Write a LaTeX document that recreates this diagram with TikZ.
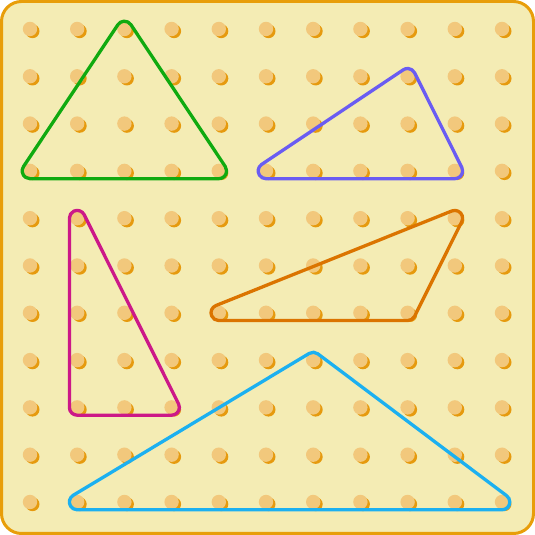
\documentclass[tikz,border=0pt]{standalone}
\usetikzlibrary{calc}
\definecolor{bgc}{HTML}{F4ECB4}
\definecolor{framec}{HTML}{E89E0A}
\definecolor{pegl}{HTML}{F2C87C}
\definecolor{pegd}{HTML}{E69A0E}
\definecolor{bgreen}{HTML}{10AA10}
\definecolor{bpurple}{HTML}{6A5CF2}
\definecolor{borange}{HTML}{DB7400}
\definecolor{bmagenta}{HTML}{CC1888}
\definecolor{bcyan}{HTML}{1CB0F0}
\tikzset{band/.style={line width=3.3pt,line join=round}}
\newcommand\bandtri[4]{%
  \draw[band,#4] let \p1=(#1), \p2=(#2), \p3=(#3),
    \n1={atan2(\y2-\y1,\x2-\x1)-90},
    \n2={atan2(\y3-\y2,\x3-\x2)-90},
    \n3={atan2(\y1-\y3,\x1-\x3)-90} in
    ($(\p1)+(\n1:7.8pt)$) -- ($(\p2)+(\n1:7.8pt)$)
    arc[start angle=\n1, delta angle={mod(\n2-\n1+720,360)}, radius=7.8pt]
    -- ($(\p3)+(\n2:7.8pt)$)
    arc[start angle=\n2, delta angle={mod(\n3-\n2+720,360)}, radius=7.8pt]
    -- ($(\p1)+(\n3:7.8pt)$)
    arc[start angle=\n3, delta angle={mod(\n1-\n3+720,360)}, radius=7.8pt]
    -- cycle;}
\begin{document}
\begin{tikzpicture}[x=1pt,y=1pt]
\useasboundingbox (0,0) rectangle (535,535);
\draw[fill=bgc,draw=framec,line width=3pt,rounded corners=20pt] (1.5,1.5) rectangle (533.5,533.5);
\foreach \i in {0,...,10}{
  \foreach \j in {0,...,10}{
    \coordinate (p-\i-\j) at ({30+47.2*\i},{506-47.3*\j});
    \fill[pegd] ($(p-\i-\j)+(2.5,-2.2)$) circle (7);
    \fill[pegl] (p-\i-\j) circle (7.2);
  }
}
\bandtri{p-2-0}{p-0-3}{p-4-3}{bgreen}
\bandtri{p-8-1}{p-5-3}{p-9-3}{bpurple}
\bandtri{p-9-4}{p-4-6}{p-8-6}{borange}
\bandtri{p-1-4}{p-1-8}{p-3-8}{bmagenta}
\bandtri{p-6-7}{p-1-10}{p-10-10}{bcyan}
\end{tikzpicture}
\end{document}
